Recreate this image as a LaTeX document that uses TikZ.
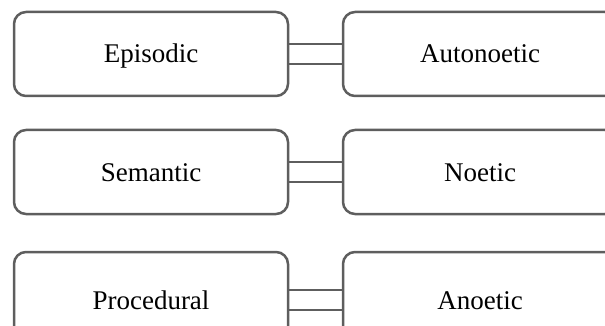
\documentclass[tikz,border=0pt]{standalone}
\usepackage{fontspec}
\setmainfont{Liberation Serif}
\usepackage{tikz}
\usetikzlibrary{positioning}

\definecolor{edgegray}{HTML}{5E5E5E}

\begin{document}
\begin{tikzpicture}[x=0.5pt, y=-0.5pt,
    memtype/.style={draw=edgegray, line width=1.25pt, rounded corners=6pt,
        fill=white, minimum width=137pt, minimum height=42pt,
        text height=9pt, text depth=0pt,
        font=\fontsize{13.5}{16}\selectfont},
    link/.style={draw=edgegray, line width=1.25pt}]
    \useasboundingbox (0,0) rectangle (605,326);
    % memory systems (left) and kinds of consciousness (right)
    \node[memtype] (episodic) at (151,54) {Episodic};
    \node[memtype] (semantic) at (151,172) {Semantic};
    \node[memtype, minimum height=48pt] (procedural) at (151,300) {Procedural};
    \node[memtype] (autonoetic) at (480,54) {Autonoetic};
    \node[memtype] (noetic) at (480,172) {Noetic};
    \node[memtype, minimum height=48pt] (anoetic) at (480,300) {Anoetic};
    % double links
    \foreach \a/\b in {episodic/autonoetic, semantic/noetic, procedural/anoetic} {
        \draw[link] ([yshift=5pt]\a.east) -- ([yshift=5pt]\b.west);
        \draw[link] ([yshift=-5pt]\a.east) -- ([yshift=-5pt]\b.west);
    }
\end{tikzpicture}
\end{document}
